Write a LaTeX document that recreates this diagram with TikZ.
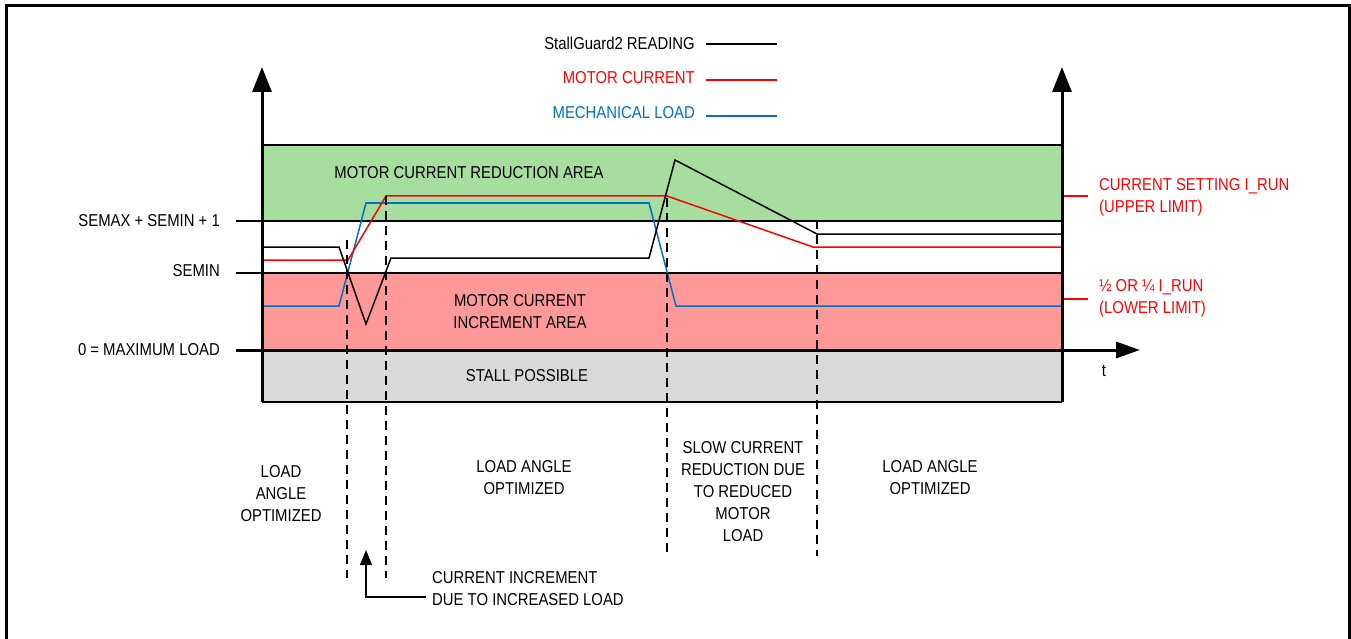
\documentclass[tikz,border=0pt]{standalone}
\usepackage{fontspec}
\setmainfont{Liberation Sans}[FakeStretch=0.865]
\usetikzlibrary{arrows.meta}

\definecolor{sgred}{RGB}{255,0,0}
\definecolor{sgblue}{RGB}{0,112,192}
\definecolor{sggreen}{RGB}{168,221,160}
\definecolor{sgpink}{RGB}{255,153,153}
\definecolor{sggray}{RGB}{217,217,217}

\tikzset{
  lbl/.style={inner sep=0pt, font=\fontsize{17.2}{22}\selectfont, align=center},
  zone/.style={draw=black, line width=1.2pt},
  level/.style={draw=black, line width=1.2pt},
  axis/.style={line width=3pt, -{Triangle[length=25pt,width=19pt]}},
  trace/.style={line width=1.5pt, line join=miter},
  marker/.style={line width=1.3pt, dash pattern=on 9pt off 6pt},
  tick/.style={draw=sgred, line width=1.3pt},
}

\begin{document}
\begin{tikzpicture}[x=1pt, y=-1pt]
\useasboundingbox (0,0) rectangle (1351,639);

% outer frame (open at the bottom)
\draw[line width=3pt] (6,639) -- (6,6) -- (1349,6) -- (1349,639);

% operating zones
\fill[sggreen] (262,145) rectangle (1062,221);
\draw[zone] (262,145) -- (1062,145);
\fill[sgpink] (262,273) rectangle (1062,350);
\fill[sggray] (262,350) rectangle (1062,402);
\draw[zone] (262,402) -- (1062,402);

% threshold levels
\draw[level] (236,221) -- (1062,221);
\draw[level] (236,273) -- (1062,273);

% legend
\node[lbl, anchor=east] (lgSG) at (695,43) {StallGuard2 READING};
\node[lbl, anchor=east, text=sgred] (lgMC) at (695,78) {MOTOR CURRENT};
\node[lbl, anchor=east, text=sgblue] (lgML) at (695,113) {MECHANICAL LOAD};
\coordinate (lgSGe) at (777,44);
\coordinate (lgMCe) at (777,80);
\coordinate (lgMLe) at (777,116);
\draw[line width=1.3pt] (706,44) -- (lgSGe);
\draw[line width=1.3pt, sgred] (706,80) -- (lgMCe);
\draw[line width=1.3pt, sgblue] (706,116) -- (lgMLe);

% zone labels
\node[lbl] (zRed) at (469,173) {MOTOR CURRENT REDUCTION AREA};
\node[lbl] (zInc) at (520,312) {MOTOR CURRENT\\INCREMENT AREA};
\node[lbl] (zStall) at (527,376) {STALL POSSIBLE};

% level labels
\node[lbl, anchor=east] (lSemax) at (220,221) {SEMAX + SEMIN + 1};
\node[lbl, anchor=east] (lSemin) at (220,271) {SEMIN};
\node[lbl, anchor=east] (lZero) at (220,350) {0 = MAXIMUM LOAD};

% current limits
\draw[tick] (1062,196) -- (1088,196);
\draw[tick] (1062,299) -- (1088,299);
\node[lbl, anchor=west, align=left, text=sgred] (lUp) at (1099,197) {CURRENT SETTING I\_RUN\\(UPPER LIMIT)};
\node[lbl, anchor=west, align=left, text=sgred] (lLow) at (1099,298) {½ OR ¼ I\_RUN\\(LOWER LIMIT)};

% traces
\draw[trace, sgblue] (262,306) -- (339,306) -- (366,203) -- (649,203) -- (676,306) -- (1062,306);
\draw[trace, sgred] (262,260) -- (348,260) -- (386,196) -- (667,196) -- (813,247) -- (1062,247);
\draw[trace, black] (262,247) -- (339,247) -- (366,324) -- (391,258) -- (649,258) -- (675,160) -- (817,234) -- (1062,234);

% phase markers
\draw[marker] (347,240) -- (347,578);
\draw[marker] (386,196) -- (386,578);
\draw[marker] (667,198) -- (667,556);
\draw[marker] (817,220) -- (817,556);

% axes
\draw[axis] (262,402) -- (262,67);
\draw[axis] (1062,402) -- (1062,67);
\draw[axis, -{Triangle[length=24pt,width=16pt]}] (236,350) -- (1140,350);
\node[lbl] (tLbl) at (1104,371) {t};

% phase descriptions
\node[lbl] (p1) at (281,494) {LOAD\\ANGLE\\OPTIMIZED};
\node[lbl] (p2) at (524,478) {LOAD ANGLE\\OPTIMIZED};
\node[lbl] (p3) at (743,492) {SLOW CURRENT\\REDUCTION DUE\\TO REDUCED\\MOTOR\\LOAD};
\node[lbl] (p4) at (930,478) {LOAD ANGLE\\OPTIMIZED};

% increment annotation
\node[lbl, anchor=west, align=left] (ciText) at (432,589) {CURRENT INCREMENT\\DUE TO INCREASED LOAD};
\coordinate (ciEnd) at (426,597);
\coordinate (ciTip) at (366,550);
\draw[line width=1.3pt, -{Triangle[length=15pt,width=12pt]}] (ciEnd) -| (ciTip);
\end{tikzpicture}
\end{document}
